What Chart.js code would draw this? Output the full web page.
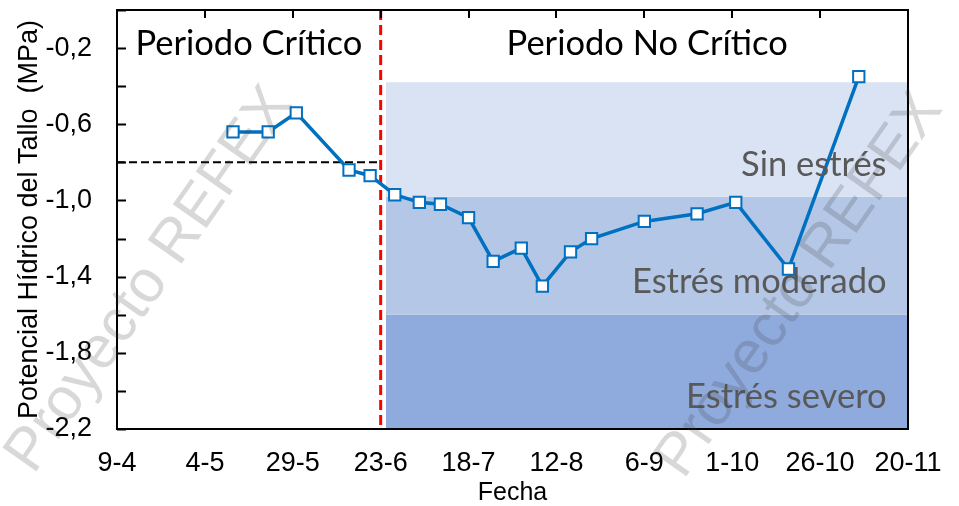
<!DOCTYPE html>
<html>
<head>
<meta charset="utf-8">
<script src="https://cdn.jsdelivr.net/npm/chart.js@4.4.0/dist/chart.umd.min.js"></script>
<style>
  html, body { margin: 0; padding: 0; background: #fff; }
  #grafico { display: block; }
</style>
</head>
<body>
<canvas id="grafico" width="959" height="506"></canvas>
<script>
// fechas de muestreo (dia-mes) y potencial hidrico medido (MPa)
const fechas = ['12-5', '22-5', '30-5', '14-6', '20-6', '27-6', '4-7', '10-7', '18-7', '25-7',
  '2-8', '8-8', '16-8', '22-8', '6-9', '21-9', '2-10', '17-10', '6-11'];
const potencial = [-0.64, -0.64, -0.54, -0.84, -0.87, -0.97, -1.01, -1.02, -1.09, -1.32,
  -1.25, -1.45, -1.27, -1.20, -1.11, -1.07, -1.01, -1.36, -0.35];

// ejes
const etiquetasX = ['9-4', '4-5', '29-5', '23-6', '18-7', '12-8', '6-9', '1-10', '26-10', '20-11'];
const marcasY = [-2.2, -1.8, -1.4, -1.0, -0.6, -0.2];
const etiquetasY = ['-2,2', '-1,8', '-1,4', '-1,0', '-0,6', '-0,2'];

// umbral del periodo critico y bandas de estres
const umbralCritico = -0.8;
const finPeriodoCritico = '23-6';
const limitesEstres = [-0.38, -0.98, -1.6];
const coloresEstres = ['#dae3f3', '#b4c7e7', '#8faadc'];
const inicioBandas = 76.5;

// dias transcurridos desde el 9 de abril
function dia(f) {
  const [d, m] = f.split('-').map(Number);
  return (Date.UTC(2021, m - 1, d) - Date.UTC(2021, 3, 9)) / 86400000;
}

const xMin = dia(etiquetasX[0]);
const xMax = dia(etiquetasX[etiquetasX.length - 1]);
const yMin = -2.2, yMax = 0;
const xCorte = dia(finPeriodoCritico);

const bandas = limitesEstres.map((lim, i) => ({
  data: [{ x: inicioBandas, y: lim }, { x: xMax, y: lim }],
  borderWidth: 0,
  pointRadius: 0,
  backgroundColor: coloresEstres[i],
  fill: i < limitesEstres.length - 1 ? '+1' : 'start',
  order: 10
}));

const textos = {
  id: 'textos',
  afterDatasetsDraw(chart) {
    const { ctx, chartArea: a, scales: { x, y } } = chart;
    ctx.save();
    // marco del grafico
    ctx.strokeStyle = '#000';
    ctx.lineWidth = 2;
    ctx.strokeRect(a.left, a.top, a.right - a.left, a.bottom - a.top);
    // marcas interiores
    ctx.beginPath();
    for (let v = yMin; v <= yMax + 1e-6; v += 0.2) {
      const py = Math.round(y.getPixelForValue(v)) + 0.5;
      ctx.moveTo(a.left, py);
      ctx.lineTo(a.left + 9, py);
    }
    etiquetasX.forEach(e => {
      const px = Math.round(x.getPixelForValue(dia(e)));
      ctx.moveTo(px, a.top);
      ctx.lineTo(px, a.top + 8);
    });
    ctx.stroke();

    ctx.font = '34.5px Lato, "Open Sans", sans-serif';
    ctx.fillStyle = '#000';
    ctx.textAlign = 'center';
    ctx.textBaseline = 'alphabetic';
    ctx.fillText('Periodo Crítico', x.getPixelForValue(37.5), 55);
    ctx.fillText('Periodo No Crítico', x.getPixelForValue(150.8), 55);

    ctx.fillStyle = '#595959';
    ctx.textAlign = 'right';
    const xr = x.getPixelForValue(218.9);
    ctx.fillText('Sin estrés', xr, 176);
    ctx.fillText('Estrés moderado', xr, 293);
    ctx.fillText('Estrés severo', xr, 408);
    ctx.restore();
  },
  afterDraw(chart) {
    const ctx = chart.ctx;
    ctx.save();
    ctx.font = '60px "Liberation Sans", Arial, sans-serif';
    ctx.fillStyle = 'rgba(60,60,60,0.2)';
    ctx.textAlign = 'center';
    ctx.textBaseline = 'middle';
    [[150, 280], [800, 285]].forEach(([cx, cy]) => {
      ctx.save();
      ctx.translate(cx, cy);
      ctx.rotate(-55 * Math.PI / 180);
      ctx.fillText('Proyecto REFEX', 0, 0);
      ctx.restore();
    });
    ctx.restore();
  }
};

new Chart(document.getElementById('grafico'), {
  type: 'line',
  data: {
    datasets: [
      ...bandas,
      {
        data: fechas.map((f, i) => ({ x: dia(f), y: potencial[i] })),
        borderColor: '#0070c0',
        borderWidth: 3.5,
        pointStyle: 'rect',
        pointRadius: 8,
        pointBorderWidth: 2,
        pointBackgroundColor: '#fff',
        pointBorderColor: '#0070c0',
        fill: false,
        order: 0
      },
      {
        data: [{ x: xMin, y: umbralCritico }, { x: xCorte, y: umbralCritico }],
        borderColor: '#000',
        borderWidth: 2,
        borderDash: [8, 4],
        pointRadius: 0,
        fill: false,
        order: 2
      },
      {
        data: [{ x: xCorte, y: yMax }, { x: xCorte, y: yMin }],
        borderColor: '#ff0000',
        borderWidth: 3,
        borderDash: [10, 5],
        pointRadius: 0,
        fill: false,
        order: 1
      }
    ]
  },
  options: {
    responsive: false,
    animation: false,
    devicePixelRatio: 1,
    layout: { padding: { top: 8, right: 51, bottom: 0, left: 0 } },
    plugins: { legend: { display: false }, tooltip: { enabled: false } },
    scales: {
      x: {
        type: 'linear',
        min: xMin,
        max: xMax,
        afterBuildTicks: s => { s.ticks = etiquetasX.map(e => ({ value: dia(e) })); },
        afterFit: s => { s.height = 77; s.paddingLeft = 0; s.paddingRight = 0; },
        ticks: {
          callback: (v, i) => etiquetasX[i],
          autoSkip: false,
          maxRotation: 0,
          padding: 18,
          color: '#000',
          font: { family: '"Liberation Sans", Arial, sans-serif', size: 27 }
        },
        grid: { display: false, drawTicks: false },
        border: { display: false },
        title: {
          display: true,
          text: 'Fecha',
          color: '#000',
          padding: { top: 0, bottom: -2 },
          font: { family: '"Liberation Sans", Arial, sans-serif', size: 25 }
        }
      },
      y: {
        min: yMin,
        max: yMax,
        afterBuildTicks: s => { s.ticks = marcasY.map(v => ({ value: v })); },
        afterFit: s => { s.width = 117; s.paddingTop = 0; s.paddingBottom = 0; },
        ticks: {
          callback: (v, i) => etiquetasY[i],
          padding: 25,
          color: '#000',
          font: { family: '"Liberation Sans", Arial, sans-serif', size: 27 }
        },
        grid: { display: false, drawTicks: false },
        border: { display: false },
        title: {
          display: true,
          text: 'Potencial Hídrico del Tallo  (MPa)',
          color: '#000',
          padding: { top: 13, bottom: 0 },
          font: { family: '"Liberation Sans", Arial, sans-serif', size: 27 }
        }
      }
    }
  },
  plugins: [textos]
});
</script>
</body>
</html>
